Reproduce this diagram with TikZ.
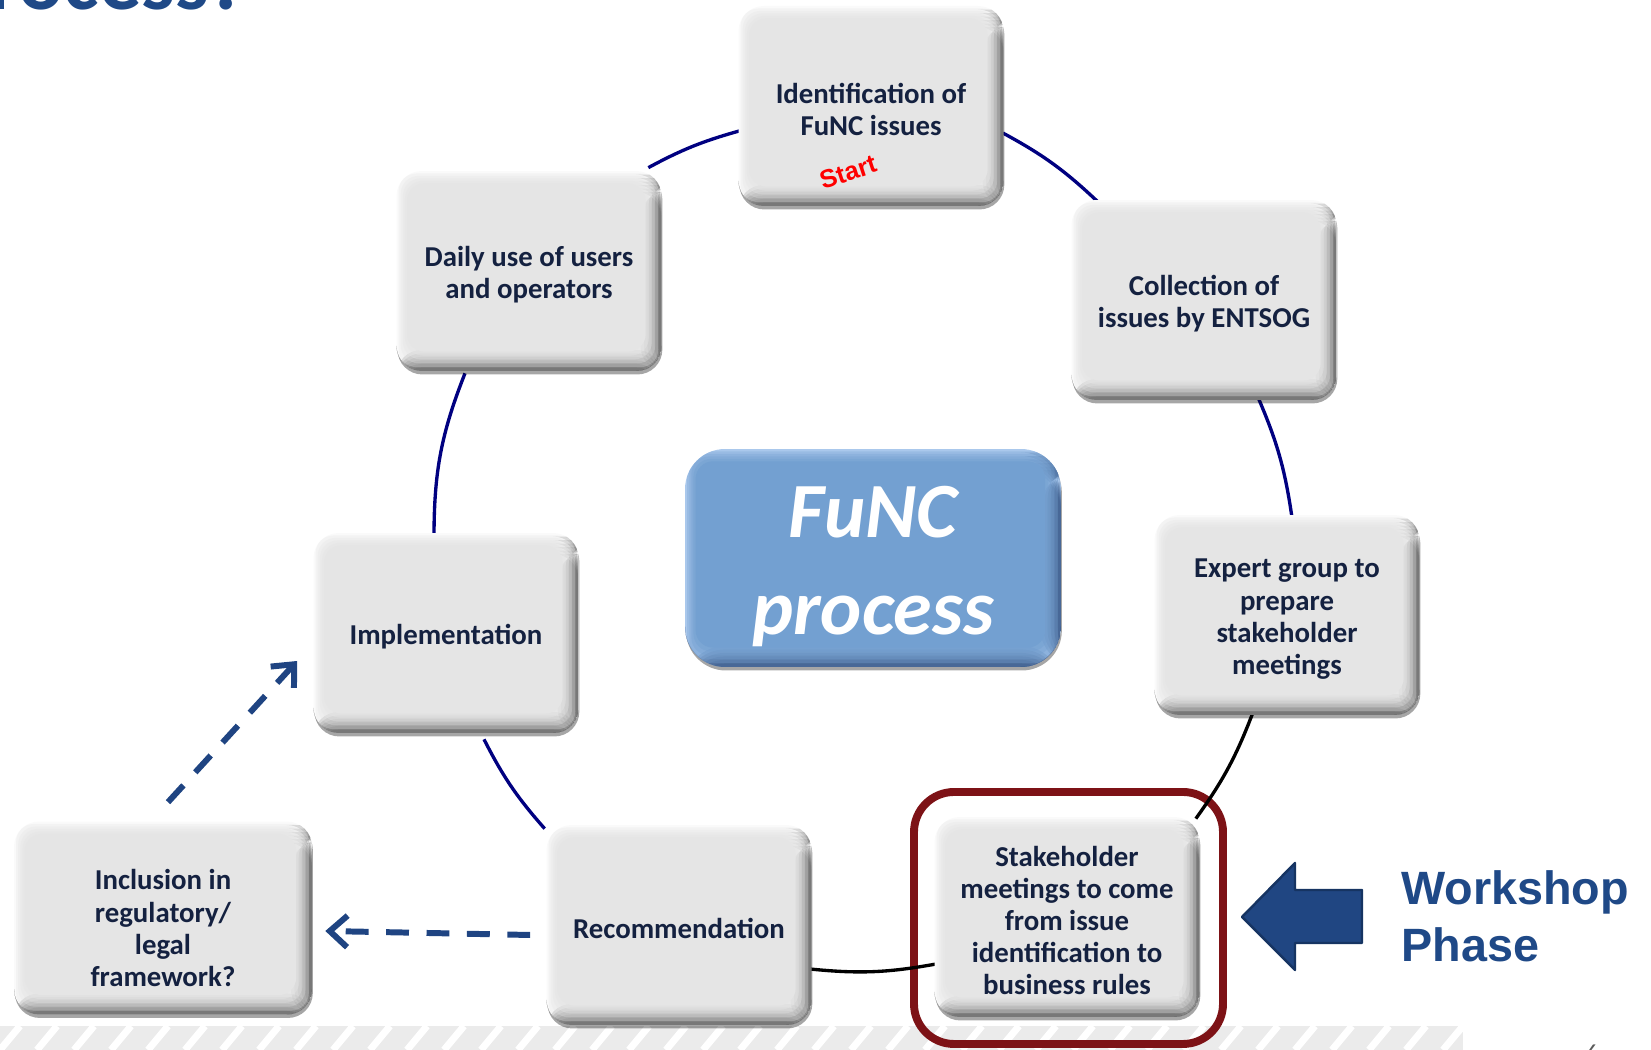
\documentclass[tikz,border=0pt]{standalone}
\usepackage{fontspec}
\setmainfont{Carlito}
\newfontfamily\arialfont{Liberation Sans}
\usetikzlibrary{calc,arrows.meta,shadows}

\definecolor{ink}{RGB}{20,33,64}
\definecolor{face}{RGB}{229,229,229}
\definecolor{rimlight}{RGB}{250,250,250}
\definecolor{rimdark}{RGB}{85,85,85}
\definecolor{ringblue}{RGB}{0,0,128}
\definecolor{titleblue}{RGB}{31,73,135}
\definecolor{dashblue}{RGB}{31,68,130}
\definecolor{arrowfill}{RGB}{32,70,130}
\definecolor{arrowedge}{RGB}{22,52,98}
\definecolor{framered}{RGB}{125,18,22}
\definecolor{hubface}{RGB}{115,160,209}
\definecolor{hublight}{RGB}{170,200,236}
\definecolor{hubdark}{RGB}{45,78,128}
\definecolor{stripgray}{RGB}{235,235,235}
\definecolor{pagegray}{RGB}{90,90,90}

% strut that lowers the text block slightly inside a box
\newcommand\liftline{\rule{0pt}{15.5pt}}

\pgfdeclarelayer{bg}
\pgfdeclarelayer{ring}
\pgfsetlayers{bg,ring,main}

\tikzset{
  % bevelled fill: light base, darkened right and bottom rims, soft flat face
  bevel/.style args={#1/#2/#3}{fill=#2,
    path picture={
      \foreach \i in {1,...,6}{
        \fill[#3, opacity=0.22]
          ([yshift=-\i*2pt]path picture bounding box.north east) rectangle
          ([xshift=-\i*2pt]path picture bounding box.south east);
        \fill[#3, opacity=0.22]
          (path picture bounding box.south west) rectangle
          ([yshift=\i*2pt]path picture bounding box.south east);
      }
      \foreach \i/\o in {1/0.3,2/0.3,3/0.35,4/0.45,5/1}{
        \fill[#1, opacity=\o, rounded corners=10pt]
          ([shift={(\i*1.2pt,\i*2.2pt)}]path picture bounding box.south west)
          rectangle ([shift={(-\i*1.8pt,-\i*1.4pt)}]path picture bounding box.north east);
      }}},
  stepbox/.style={rectangle, rounded corners=0.5cm, minimum width=5.3cm,
    minimum height=4cm, inner sep=2pt, align=center, text=ink,
    font=\bfseries\fontsize{16.4}{18.3}\selectfont,
    drop shadow={shadow xshift=0.5pt, shadow yshift=-2pt, opacity=0.35, fill=black},
    bevel=face/rimlight/rimdark},
  hubbox/.style={rectangle, rounded corners=0.8cm, minimum width=7.52cm,
    minimum height=4.36cm, inner sep=2pt, align=center, text=white,
    font=\bfseries\itshape\fontsize{44.5}{55}\selectfont,
    drop shadow={shadow xshift=0.5pt, shadow yshift=-2pt, opacity=0.35, fill=black},
    bevel=hubface/hublight/hubdark},
  ring/.style={line width=1.9pt},
  dasharrow/.style={dashblue, line width=3.4pt, dash pattern=on 13pt off 10pt,
    -{Straight Barb[length=10pt,width=18pt]}},
}

\begin{document}
\begin{tikzpicture}[x=0.02cm,y=0.02cm]
\clip (0,0) rectangle (1651,1050);

% cycle steps
\node[stepbox] (ident)   at (871,944)  {\liftline Identification of\\FuNC issues};
\node[stepbox] (collect) at (1204,750) {\liftline Collection of\\issues by ENTSOG};
\node[stepbox] (expert)  at (1287,435) {\liftline Expert group to\\prepare\\stakeholder\\meetings};
\node[stepbox] (stake)   at (1067,133) {\liftline Stakeholder\\meetings to come\\from issue\\identification to\\business rules};
\node[stepbox] (recomm)  at (679,125)  {\liftline Recommendation};
\node[stepbox] (impl)    at (446,417)  {\liftline Implementation};
\node[stepbox] (daily)   at (529,779)  {\liftline Daily use of users\\and operators};
\node[stepbox, minimum width=5.96cm, minimum height=3.86cm] (incl) at (163,132)
  {\rule{0pt}{23pt}Inclusion in\\regulatory/\\legal\\framework?};

% central label
\node[hubbox] (func) at (873,492) {\rule{0pt}{39pt}FuNC\\process};

% start marker
\node[text=red, font=\arialfont\bfseries\fontsize{14.5}{16}\selectfont, rotate=18]
  (start) at (848,878) {Start};

% ring connecting the steps
\begin{pgfonlayer}{ring}
\draw[ring, ringblue] ($(ident.east)+(-1,-27)$) to[bend left=7.5]
  ($(collect.north west)+(26.5,-2)$);
\draw[ring, ringblue] ($(collect.south)+(54,3)$) to[bend left=7.5]
  ($(expert.north)+(5,-3)$);
\draw[ring, black] ($(expert.south)+(-34,3)$) to[bend left=7.4]
  ($(stake.north east)+(-4,-2)$);
\draw[ring, black] ($(stake.west)+(2,-47)$) to[bend left=8]
  ($(recomm.east)+(-2,-44)$);
\draw[ring, ringblue] ($(recomm.north west)+(-1.5,-4)$) to[bend left=7.2]
  ($(impl.south)+(38,-6)$);
\draw[ring, ringblue] ($(impl.north)+(-12,-3)$) to[bend left=10.7]
  ($(daily.south)+(-64,-2)$);
\draw[ring, ringblue] ($(daily.north east)+(-13.5,3)$) to[bend left=6.3]
  ($(ident.west)+(1,-25)$);
\end{pgfonlayer}

% optional follow-up paths
\draw[dasharrow] ($(recomm.west)+(-16,-10)$) -- ($(incl.east)+(13,-13)$);
\draw[dasharrow] ($(incl.north)+(5,19)$) -- ($(impl.west)+(-16,-28)$);

% footer strip and workshop highlight
\begin{pgfonlayer}{bg}
  \begin{scope}
    \clip (0,0) rectangle (1463,24);
    \fill[stripgray] (0,0) rectangle (1463,24);
    \foreach \k in {-1,...,40}
      \draw[white, line width=4pt] (\k*37,0) -- (\k*37+20,24);
  \end{scope}
  \draw[framered, line width=4.5pt, rounded corners=0.8cm] (914,6) rectangle (1223,258);
\end{pgfonlayer}

% workshop pointer
\draw[arrowedge, fill=arrowfill, line width=1.4pt, line join=round]
  (1242,133) -- (1295,187) -- (1295,160) -- (1362,160) -- (1362,107)
  -- (1295,107) -- (1295,80) -- cycle;
\node[anchor=base west, text=titleblue, inner sep=0pt,
  font=\arialfont\bfseries\fontsize{26.6}{32}\selectfont] (ws1) at (1401,145) {Workshop};
\node[anchor=base west, text=titleblue, inner sep=0pt,
  font=\arialfont\bfseries\fontsize{26.6}{32}\selectfont] (ws2) at (1401,88) {Phase};

% page heading and number
\node[anchor=base west, text=titleblue, inner sep=0pt,
  font=\bfseries\fontsize{48}{56}\selectfont] (title) at (-56,1040) {process?};
\node[anchor=north, text=pagegray, inner sep=0pt,
  font=\fontsize{14}{16}\selectfont] (page) at (1592,5) {6};
\end{tikzpicture}
\end{document}
